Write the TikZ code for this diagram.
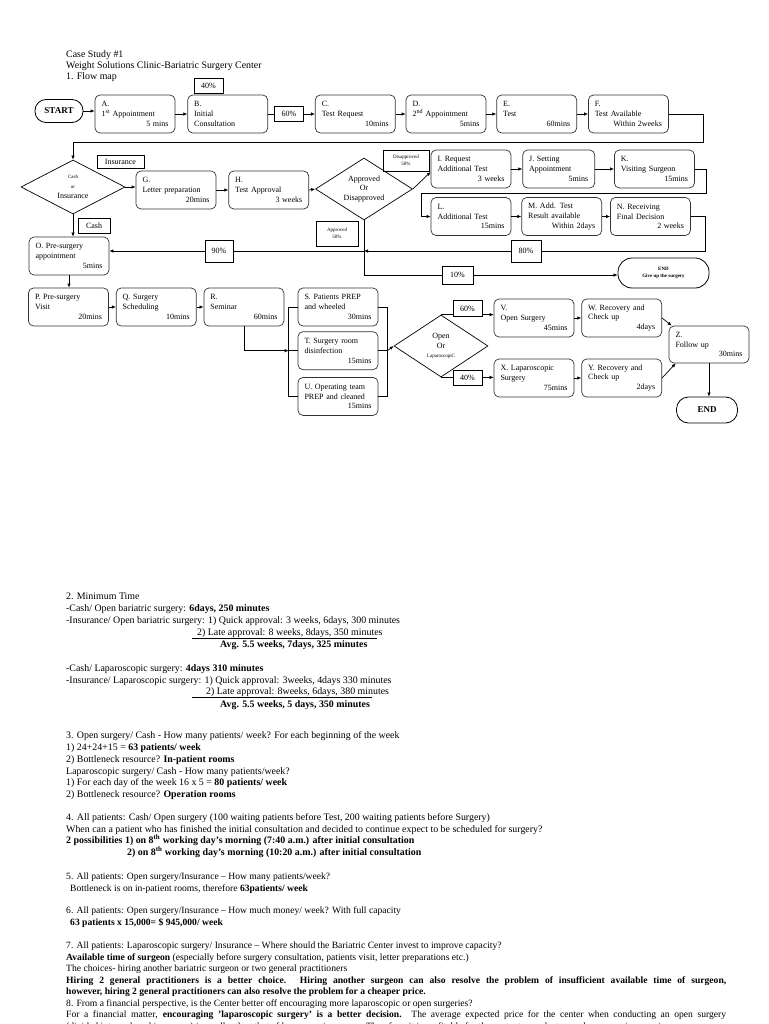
\documentclass[tikz,border=0pt]{standalone}
\usepackage{fontspec}
\setmainfont{Liberation Serif}
\usetikzlibrary{arrows.meta, positioning, shapes.geometric}

\newcommand\boxfont{\fontsize{8}{9.8}\selectfont}
\newcommand\tinyfont{\fontsize{5}{6.5}\selectfont}
\newcommand\bodyfont{\fontsize{9.9}{11.7}\selectfont}
\newcommand\smallbody{\fontsize{9.6}{11.5}\selectfont}
\newcommand\rt[1]{\hspace*{0pt plus 1filll}#1}

\begin{document}
\begin{tikzpicture}[x=1pt, y=-1pt,
  proc/.style={draw=black!80, rounded corners=5pt, line width=0.7pt,
               minimum width=80pt, minimum height=38pt, text width=67pt,
               align=left, inner sep=2pt, font=\boxfont},
  term/.style={draw, line width=0.8pt, align=center},
  dec/.style={draw, diamond, line width=0.7pt, inner sep=0pt, align=center,
              font=\boxfont},
  tag/.style={draw, line width=0.9pt, inner sep=1pt, align=center, font=\boxfont},
  arr/.style={-{Latex[length=4pt, width=3.5pt]}, line width=0.7pt},
  ln/.style={line width=0.7pt},
  txt/.style={anchor=base west, inner sep=0pt, font=\bodyfont},
]
  \useasboundingbox[fill=white] (0,0) rectangle (768,1024);

  % Title
  \node[txt] (title1) at (66,58) {Case Study \#1};
  \node[txt] (title2) at (66,69) {Weight Solutions Clinic-Bariatric Surgery Center};
  \node[txt] (title3) at (66,80) {1. Flow map};

  % First visits
  \node[term, rounded corners=11pt, minimum width=48pt, minimum height=23pt,
        font=\fontsize{9}{11}\selectfont\bfseries] (start) at (59,111) {START};
  \node[proc] (appt1) at (135,114) {A.\\1\textsuperscript{st} Appointment\\\rt{5 mins}};
  \node[proc, right=12pt of appt1] (consult) {B.\\Initial\\Consultation};
  \node[tag, minimum width=29pt, minimum height=15pt] (p40) at (208.5,86) {40\%};
  \node[tag, minimum width=29pt, minimum height=15pt, right=6pt of consult] (p60) {60\%};
  \node[proc, right=11pt of p60] (testreq) {C.\\Test Request\\\rt{10mins}};
  \node[proc, right=10pt of testreq] (appt2) {D.\\2\textsuperscript{nd} Appointment\\\rt{5mins}};
  \node[proc, right=10pt of appt2] (test) {E.\\Test\\\rt{60mins}};
  \node[proc, right=11pt of test] (testavail) {F.\\Test Available\\\rt{Within 2weeks}};

  \draw[arr] (start.east) -- (start.east -| appt1.west);
  \draw[arr] (appt1) -- (consult);
  \draw[ln] (consult) -- (p60);
  \draw[arr] (p60) -- (testreq);
  \draw[arr] (testreq) -- (appt2);
  \draw[arr] (appt2) -- (test);
  \draw[arr] (test) -- (testavail);

  % Payment and approval
  \node[dec, aspect=1.9, minimum width=104pt, minimum height=54pt] (pay) at (73,187)
        {{\tinyfont Cash}\\{\tinyfont or}\\Insurance};
  \node[tag, minimum width=47pt, minimum height=13pt] (ins) at (120.5,161.5) {Insurance};
  \node[tag, minimum width=32pt, minimum height=15pt] (cash) at (94,225.5) {Cash};
  \node[proc] (letter) at (176,190) {G.\\Letter preparation\\\rt{20mins}};
  \node[proc, right=12pt of letter] (approval) {H.\\Test Approval\\\rt{3 weeks}};
  \node[dec, aspect=1.6, minimum width=97pt, minimum height=62pt] (verdict) at (364,189)
        {Approved\\Or\\Disapproved};
  \node[tag, minimum width=46pt, minimum height=21pt, font=\tinyfont] (dis) at (406,160.5)
        {Disapproved\\50\%};
  \node[tag, minimum width=42pt, minimum height=25pt, font=\tinyfont] (apr) at (337,233.5)
        {Approved\\50\%};

  \draw[arr] (testavail.east) -- ++(35,0) -- ++(0,28) -| (pay.north);
  \draw[arr] (pay.east) -- (pay.east -| letter.west);
  \draw[arr] (letter) -- (approval);
  \draw[arr] (approval.east) -- (verdict.west);

  % Additional test
  \node[proc] (addreq) at (471,169) {I. Request\\Additional Test\\\rt{3 weeks}};
  \node[proc, minimum width=72pt, text width=59pt, right=11pt of addreq] (setappt)
        {J. Setting\\Appointment\\\rt{5mins}};
  \node[proc, right=19pt of setappt] (visit) {K.\\Visiting Surgeon\\\rt{15mins}};
  \node[proc] (addtest) at (471,216.5) {L.\\Additional Test\\\rt{15mins}};
  \node[proc, right=10pt of addtest] (addresult) {M. Add. Test\\Result available\\\rt{Within 2days}};
  \node[proc, right=8pt of addresult] (final) {N. Receiving\\Final Decision\\\rt{2 weeks}};

  \draw[arr] (verdict.east) -- ([yshift=-3pt]addreq.west);
  \draw[arr] (addreq) -- (setappt);
  \draw[arr] (setappt) -- (visit);
  \draw[arr] (visit.east) -- ++(12,0) -- ++(0,24) -| ([xshift=-9pt]addtest.west) -- (addtest.west);
  \draw[arr] (addtest) -- (addresult);
  \draw[arr] (addresult) -- (final);

  % Outcomes
  \node[tag, minimum width=30pt, minimum height=22pt] (p80) at (526,251) {80\%};
  \node[tag, minimum width=28pt, minimum height=22pt] (p90) at (219,251) {90\%};
  \node[tag, minimum width=31pt, minimum height=18pt] (p10) at (457.5,275) {10\%};
  \node[term, rounded corners=14pt, minimum width=91pt, minimum height=30pt,
        font=\tinyfont\bfseries] (quit) at (663.5,273) {END\\Give up the surgery};
  \node[proc] (preappt) at (69,256) {O. Pre-surgery\\appointment\\\rt{5mins}};
  \coordinate (jn) at (verdict.south |- p80);

  \draw[ln] (final.east) -- ++(15,0) |- (p80.east);
  \draw[arr] (p80.west) -- (jn);
  \draw[ln] (jn) -- (p90.east);
  \draw[arr] (p90.west) -- (p90.west -| preappt.east);
  \draw[ln] (verdict.south) |- (p10.west);
  \draw[arr] (p10.east) -- (p10.east -| quit.west);
  \draw[arr] (pay.south) -- (pay.south |- preappt.north);

  % Surgery preparation
  \node[proc] (previsit) at (68.5,307) {P. Pre-surgery\\Visit\\\rt{20mins}};
  \node[proc, right=7pt of previsit] (sched) {Q. Surgery\\Scheduling\\\rt{10mins}};
  \node[proc, right=7pt of sched] (seminar) {R.\\Seminar\\\rt{60mins}};
  \node[proc] (prep) at (338,307) {S. Patients PREP\\and wheeled\\\rt{30mins}};
  \node[proc, below=5pt of prep] (disinf) {T. Surgery room\\disinfection\\\rt{15mins}};
  \node[proc, below=7pt of disinf] (team) {U. Operating team\\PREP and cleaned\\\rt{15mins}};

  \draw[arr] (preappt.south) -- (preappt.south |- previsit.north);
  \draw[arr] (previsit) -- (sched);
  \draw[arr] (sched) -- (seminar);
  \draw[arr] (seminar.south) |- ([xshift=-9pt]disinf.west);
  \draw[ln] (prep.west) -- ++(-9,0) |- (team.west);
  \draw[ln] (disinf.west) -- ++(-9,0);
  \draw[ln] (prep.east) -- ++(9,0) |- (team.east);
  \draw[ln] (disinf.east) -- ++(9,0);

  % Surgery
  \node[dec, aspect=1.5, minimum width=94pt, minimum height=62pt] (kind) at (441,346)
        {Open\\Or\\{\tinyfont LaparoscopiC}};
  \node[tag, minimum width=29pt, minimum height=16pt] (p60b) at (467.5,308.5) {60\%};
  \node[tag, minimum width=29pt, minimum height=15pt] (p40b) at (467.5,377.5) {40\%};
  \node[proc] (opensurg) at (534,318) {V.\\Open Surgery\\\rt{45mins}};
  \node[proc, right=7pt of opensurg] (recov1) {W. Recovery and\\Check up\\\rt{4days}};
  \node[proc] (lapsurg) at (534,378) {X. Laparoscopic\\Surgery\\\rt{75mins}};
  \node[proc, right=7pt of lapsurg] (recov2) {Y. Recovery and\\Check up\\\rt{2days}};
  \node[proc, minimum height=37pt] (follow) at (709,344.5) {Z.\\Follow up\\\rt{30mins}};
  \node[term, rounded corners=12pt, minimum width=61pt, minimum height=26pt,
        font=\fontsize{9}{11}\selectfont\bfseries] (fin) at (707,410) {END};

  \draw[arr] ([xshift=9pt]disinf.east) -- (kind.west);
  \draw[ln] (kind.north) -- (kind.north -| p60b.west);
  \draw[arr] (kind.north -| p60b.east) -- (kind.north -| opensurg.west);
  \draw[ln] (kind.south) -- (kind.south -| p40b.west);
  \draw[arr] (kind.south -| p40b.east) -- (kind.south -| lapsurg.west);
  \draw[arr] (opensurg) -- (recov1);
  \draw[arr] (lapsurg) -- (recov2);
  \draw[arr] (recov1.east) -- ([xshift=3pt]follow.north west);
  \draw[arr] (recov2.east) -- ([xshift=7pt]follow.south west);
  \draw[arr] (follow.south) -- (follow.south |- fin.north);

  % 2. Minimum time
  \node[txt] (s2a) at (66,599) {2. Minimum Time};
  \node[txt] (s2b) at (66,611) {-Cash/ Open bariatric surgery: \textbf{6days, 250 minutes}};
  \node[txt] (s2c) at (66,623) {-Insurance/ Open bariatric surgery: 1) Quick approval: 3 weeks, 6days, 300 minutes};
  \node[txt] (s2d) at (197,635) {2) Late approval: 8 weeks, 8days, 350 minutes};
  \node[txt] (s2e) at (220,647) {\textbf{Avg. 5.5 weeks, 7days, 325 minutes}};
  \draw[ln] ([shift={(-5,3.5)}]s2d.base west) -- ++(185,0);
  \node[txt] (s2f) at (66,671) {-Cash/ Laparoscopic surgery: \textbf{4days 310 minutes}};
  \node[txt] (s2g) at (66,683) {-Insurance/ Laparoscopic surgery: 1) Quick approval: 3weeks, 4days 330 minutes};
  \node[txt] (s2h) at (206,694) {2) Late approval: 8weeks, 6days, 380 minutes};
  \node[txt] (s2i) at (220,707) {\textbf{Avg. 5.5 weeks, 5 days, 350 minutes}};
  \draw[ln] ([shift={(-14,3.5)}]s2h.base west) -- ++(180,0);

  % 3. Capacity
  \node[txt] (s3a) at (66,738) {3. Open surgery/ Cash - How many patients/ week? For each beginning of the week};
  \node[txt] (s3b) at (66,750) {1) 24+24+15 = \textbf{63 patients/ week}};
  \node[txt] (s3c) at (66,762) {2) Bottleneck resource? \textbf{In-patient rooms}};
  \node[txt] (s3d) at (66,774) {Laparoscopic surgery/ Cash - How many patients/week?};
  \node[txt] (s3e) at (66,785) {1) For each day of the week 16 x 5 = \textbf{80 patients/ week}};
  \node[txt] (s3f) at (66,797) {2) Bottleneck resource? \textbf{Operation rooms}};

  % 4. Waiting
  \node[txt] (s4a) at (66,820) {4. All patients: Cash/ Open surgery (100 waiting patients before Test, 200 waiting patients before Surgery)};
  \node[txt] (s4b) at (66,832) {When can a patient who has finished the initial consultation and decided to continue expect to be scheduled for surgery?};
  \node[txt, font=\bodyfont\bfseries] (s4c) at (66,843) {2 possibilities 1) on 8\textsuperscript{th} working day's morning (7:40 a.m.) after initial consultation};
  \node[txt, font=\bodyfont\bfseries] (s4d) at (127,855) {2) on 8\textsuperscript{th} working day's morning (10:20 a.m.) after initial consultation};

  % 5. - 8.
  \node[txt, font=\smallbody] (s5a) at (66,879) {5. All patients: Open surgery/Insurance – How many patients/week?};
  \node[txt, font=\smallbody] (s5b) at (70,891) {Bottleneck is on in-patient rooms, therefore \textbf{63patients/ week}};
  \node[txt, font=\smallbody] (s6a) at (66,913) {6. All patients: Open surgery/Insurance – How much money/ week? With full capacity};
  \node[txt, font=\smallbody\bfseries] (s6b) at (70,925) {63 patients x 15,000= \$ 945,000/ week};
  \node[txt, font=\smallbody] (s7a) at (66,948) {7. All patients: Laparoscopic surgery/ Insurance – Where should the Bariatric Center invest to improve capacity?};
  \node[txt, font=\smallbody] (s7b) at (66,960) {\textbf{Available time of surgeon} (especially before surgery consultation, patients visit, letter preparations etc.)};
  \node[txt, font=\smallbody] (s7c) at (66,971) {The choices- hiring another bariatric surgeon or two general practitioners};
  \node[txt, font=\smallbody\bfseries] (s7d) at (66,983) {\hbox to 660pt{Hiring 2 general practitioners is a better choice. Hiring another surgeon can also resolve the problem of insufficient available time of surgeon,}};
  \node[txt, font=\smallbody\bfseries] (s7e) at (66,994) {however, hiring 2 general practitioners can also resolve the problem for a cheaper price.};
  \node[txt, font=\smallbody] (s8a) at (66,1006) {8. From a financial perspective, is the Center better off encouraging more laparoscopic or open surgeries?};
  \node[txt, font=\smallbody] (s8b) at (66,1017) {\hbox to 660pt{For a financial matter, \textbf{encouraging 'laparoscopic surgery' is a better decision.} The average expected price for the center when conducting an open surgery}};
  \node[txt, font=\smallbody] (s8c) at (66,1029) {(divided into cash and insurance) is smaller than that of laparoscopic surgery. Therefore, it is profitable for the center to conduct more laparoscopic surgeries.};
\end{tikzpicture}
\end{document}
